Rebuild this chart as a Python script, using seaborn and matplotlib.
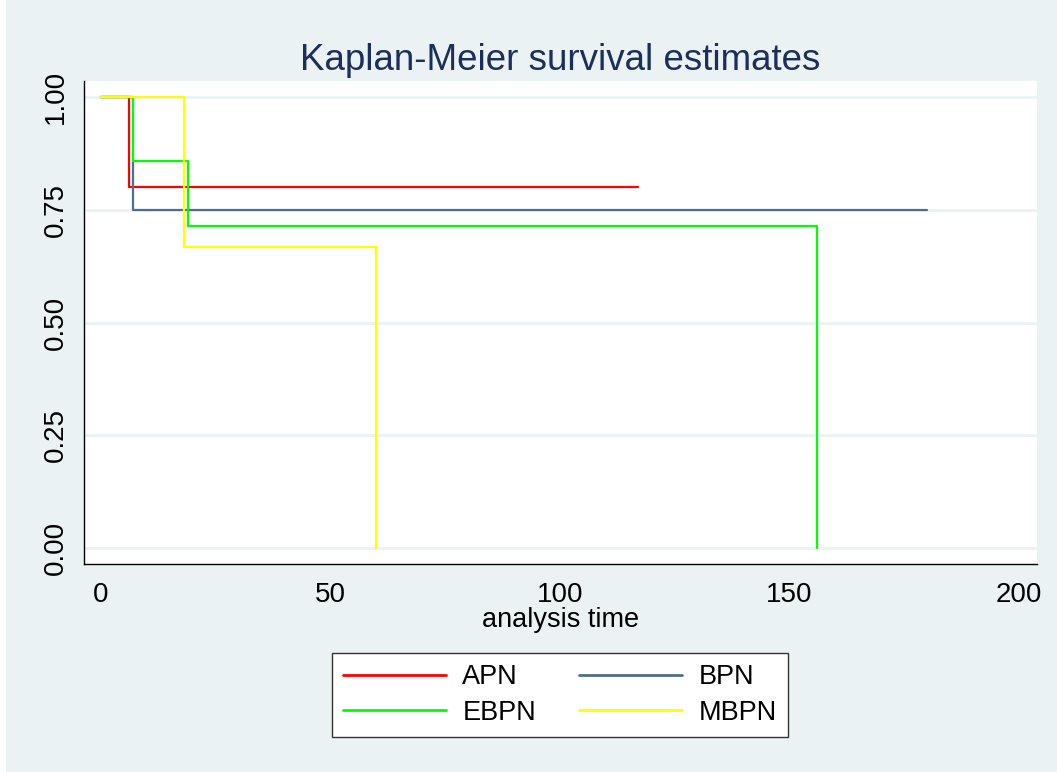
import numpy as np
import pandas as pd
import matplotlib
matplotlib.use('Agg')
import matplotlib.pyplot as plt
from matplotlib.patches import Rectangle
from matplotlib.lines import Line2D
import seaborn as sns

# Kaplan-Meier step values
groups = ['APN', 'BPN', 'EBPN', 'MBPN']
apn_time = [0, 6, 117]
apn_surv = [1.0, 0.80, 0.80]
bpn_time = [0, 7, 180]
bpn_surv = [1.0, 0.75, 0.75]
ebpn_time = [0, 7, 19, 156, 156]
ebpn_surv = [1.0, 0.857, 0.714, 0.714, 0.0]
mbpn_time = [0, 18, 60, 60]
mbpn_surv = [1.0, 0.667, 0.667, 0.0]

x_ticks = [0, 50, 100, 150, 200]
y_ticks = [0.0, 0.25, 0.50, 0.75, 1.0]
y_ticklabels = ['0.00', '0.25', '0.50', '0.75', '1.00']

colors = {'APN': '#FF0000', 'BPN': '#4F6E88', 'EBPN': '#00FF00', 'MBPN': '#FFFF00'}
bg = '#EAF2F3'

rows = []
for g, t, s in [('APN', apn_time, apn_surv), ('BPN', bpn_time, bpn_surv),
                ('EBPN', ebpn_time, ebpn_surv), ('MBPN', mbpn_time, mbpn_surv)]:
    for ti, si in zip(t, s):
        rows.append({'group': g, 'time': ti, 'surv': si})
df = pd.DataFrame(rows)

sns.set_style('white')
plt.rcParams['font.family'] = ['Liberation Sans', 'DejaVu Sans']
plt.rcParams['text.color'] = 'black'
plt.rcParams['axes.labelcolor'] = 'black'

fig = plt.figure(figsize=(10.57, 7.72), dpi=100)
fig.patch.set_facecolor('white')
fig.patches.append(Rectangle((6 / 1057, 0), 1 - 6 / 1057, 1, transform=fig.transFigure,
                             facecolor=bg, edgecolor='none', zorder=-10))

W, H = 1057, 772
ax = fig.add_axes([84 / W, 1 - 564 / H, (1037 - 84) / W, (564 - 81) / H])
ax.set_facecolor('white')

for y in y_ticks:
    ax.axhline(y, color=bg, lw=2, zorder=0)

for g in groups:
    sub = df[df['group'] == g]
    sns.lineplot(data=sub, x='time', y='surv', color=colors[g], lw=1.6,
                 drawstyle='steps-post', sort=False, estimator=None, ax=ax, legend=False)

ax.set_xlim(-3.7, 203.9)
ax.set_ylim(-0.035, 1.035)
ax.set_xticks(x_ticks)
ax.set_xticklabels([str(v) for v in x_ticks])
ax.set_yticks(y_ticks)
ax.set_yticklabels(y_ticklabels, rotation=90, va='center')
ax.tick_params(axis='both', length=7, width=1, color='black', labelsize=20, labelcolor='black')
ax.tick_params(axis='x', pad=6)
ax.tick_params(axis='y', pad=4)
ax.grid(False)

for side in ['top', 'right']:
    ax.spines[side].set_visible(False)
for side in ['left', 'bottom']:
    ax.spines[side].set_color('black')
    ax.spines[side].set_linewidth(1)

ax.set_xlabel('analysis time', fontsize=19.5, labelpad=-1)
ax.set_ylabel('')
ax.set_title('Kaplan-Meier survival estimates', fontsize=26.5, color='#1C2F5A', pad=8)

# matplotlib fills legend columns first, so reorder to get APN/BPN on the first row
leg_order = ['APN', 'EBPN', 'BPN', 'MBPN']
handles = [Line2D([], [], color=colors[g], lw=2) for g in leg_order]
leg = fig.legend(handles, leg_order, loc='center', ncol=2,
                 bbox_to_anchor=(560 / W, 1 - 695 / H), fontsize=19.5,
                 handlelength=3.8, handletextpad=0.6, columnspacing=1.6,
                 frameon=True, fancybox=False, edgecolor='#333333', framealpha=1,
                 borderpad=0.4, labelspacing=0.35)
leg.get_frame().set_linewidth(1)
leg.get_frame().set_facecolor('white')

plt.savefig('out.png', dpi=100, facecolor=fig.get_facecolor())
